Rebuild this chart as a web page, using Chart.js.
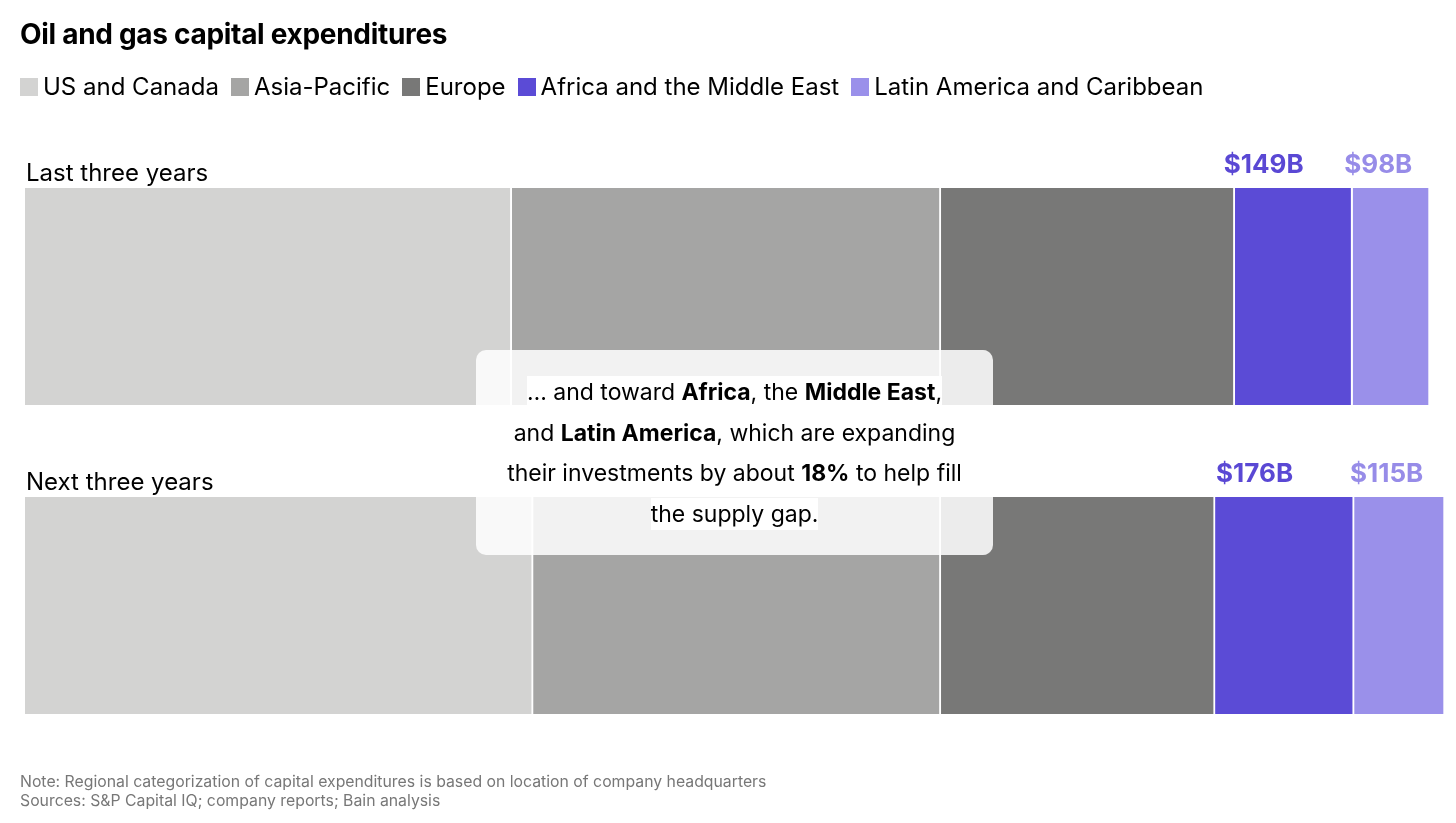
<!DOCTYPE html>
<html>
<head>
<meta charset="utf-8">
<script src="https://cdn.jsdelivr.net/npm/chart.js@4"></script>
<style>
  html, body { margin: 0; padding: 0; background: #fff; }
  body { font-family: Inter, Roboto, sans-serif; color: #000; }
  #wrap { position: relative; width: 1456px; height: 823px; overflow: hidden; }
  #chart { position: absolute; left: 0; top: 0; }
  #title { position: absolute; left: 20px; top: 17px; font-size: 28px; font-weight: 700; letter-spacing: -0.3px; }
  #legend { position: absolute; left: 20px; top: 72px; font-size: 24px; display: flex; white-space: nowrap; }
  #legend .item { display: flex; align-items: center; margin-right: 12px; }
  #legend .box { width: 18px; height: 18px; margin-right: 5px; }
  #note { position: absolute; left: 20px; top: 772px; font-size: 15.8px; color: #777; line-height: 19px; }
  #callout {
    position: absolute; left: 476px; top: 350px; width: 517px; height: 205px;
    background: rgba(255,255,255,0.86); border-radius: 10px;
    text-align: center; font-size: 23px; line-height: 40.5px;
    padding-top: 22px; box-sizing: border-box; white-space: nowrap;
  }
  #callout span { background: #fff; -webkit-box-decoration-break: clone; box-decoration-break: clone; padding: 2px 0; }
</style>
</head>
<body>
<div id="wrap">
  <canvas id="chart" width="1456" height="823"></canvas>
  <div id="title">Oil and gas capital expenditures</div>
  <div id="legend"></div>
  <div id="callout"><span>… and toward <b>Africa</b>, the <b>Middle East</b>,</span><br><span>and <b>Latin America</b>, which are expanding</span><br><span>their investments by about <b>18%</b> to help fill</span><br><span>the supply gap.</span></div>
  <div id="note">Note: Regional categorization of capital expenditures is based on location of company headquarters<br>Sources: S&amp;P Capital IQ; company reports; Bain analysis</div>
</div>
<script>
// periods (rows) and regions (stacked segments), values in $B
var periods = ['Last three years', 'Next three years'];
var regions = ['US and Canada', 'Asia-Pacific', 'Europe', 'Africa and the Middle East', 'Latin America and Caribbean'];
var usCanada = [616, 643];
var asiaPacific = [543, 516];
var europe = [372, 347];
var africaMiddleEast = [149, 176];
var latinAmerica = [98, 115];
var colors = ['#d3d3d2', '#a5a5a4', '#787877', '#5b4bd6', '#9a90ea'];
var labelColors = [null, null, null, '#5a48d4', '#978ce8'];

var series = [usCanada, asiaPacific, europe, africaMiddleEast, latinAmerica];

// legend
var legend = document.getElementById('legend');
regions.forEach(function (name, i) {
  var item = document.createElement('div');
  item.className = 'item';
  item.innerHTML = '<span class="box" style="background:' + colors[i] + '"></span>' + name;
  legend.appendChild(item);
});

var totals = periods.map(function (p, j) {
  return series.reduce(function (s, arr) { return s + arr[j]; }, 0);
});

var labelPlugin = {
  id: 'barLabels',
  afterDatasetsDraw: function (chart) {
    var ctx = chart.ctx;
    ctx.save();
    // row titles above each bar
    var meta0 = chart.getDatasetMeta(0);
    ctx.font = '24px Inter';
    ctx.fillStyle = '#000';
    ctx.textAlign = 'left';
    ctx.textBaseline = 'alphabetic';
    meta0.data.forEach(function (bar, j) {
      var top = bar.y - bar.height / 2;
      ctx.fillText(chart.data.labels[j], 26, top - 7);
    });
    // value labels for the two growing regions
    ctx.font = 'bold 26px Inter';
    ctx.textAlign = 'center';
    var shift = { 3: 30, 4: 13 };
    [3, 4].forEach(function (i) {
      var meta = chart.getDatasetMeta(i);
      ctx.fillStyle = labelColors[i];
      meta.data.forEach(function (bar, j) {
        var top = bar.y - bar.height / 2;
        var cx = (bar.base + bar.x) / 2 - shift[i];
        ctx.fillText('$' + chart.data.datasets[i].data[j] + 'B', cx, top - 15);
      });
    });
    ctx.restore();
  }
};

new Chart(document.getElementById('chart'), {
  type: 'bar',
  data: {
    labels: periods,
    datasets: regions.map(function (name, i) {
      return {
        label: name,
        data: series[i],
        backgroundColor: colors[i],
        borderColor: '#ffffff',
        borderWidth: { left: 0, right: 2, top: 0, bottom: 0 },
        borderSkipped: false,
        barThickness: 217
      };
    })
  },
  options: {
    indexAxis: 'y',
    responsive: false,
    animation: false,
    devicePixelRatio: 1,
    layout: { padding: { left: 25, right: 11, top: 142, bottom: 63 } },
    scales: {
      x: { stacked: true, display: false, min: 0, max: Math.max.apply(null, totals) },
      y: { stacked: true, display: false }
    },
    plugins: {
      legend: { display: false },
      tooltip: { enabled: false }
    }
  },
  plugins: [labelPlugin]
});
</script>
</body>
</html>
